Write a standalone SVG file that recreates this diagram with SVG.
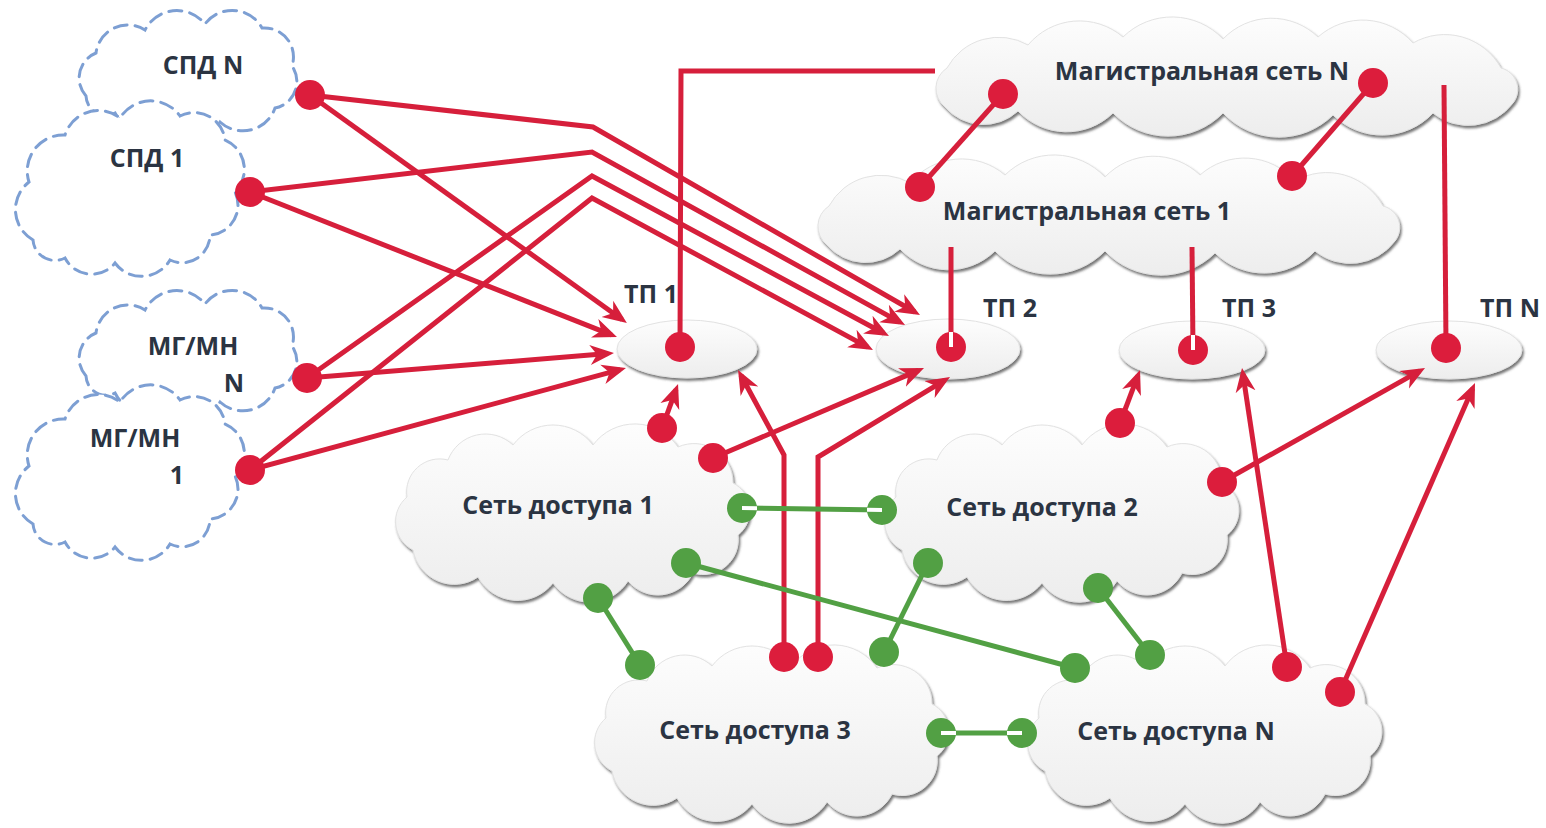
<svg xmlns="http://www.w3.org/2000/svg" width="1546" height="828" viewBox="0 0 1546 828">
<defs>
<style>
.dash{fill:#fff;stroke:#7d9fd3;stroke-width:3;stroke-dasharray:13 8;stroke-linecap:round}
.gray{fill:url(#gg);stroke:#e2e2e2;stroke-width:1;filter:url(#sh)}
.t{font-family:"Open Sans","Noto Sans","Liberation Sans",sans-serif;font-weight:700;fill:#2b3442;text-anchor:middle;font-size:25px}
.r{fill:none;stroke:#d61f3b;stroke-width:5}
.ra{fill:none;stroke:#d61f3b;stroke-width:5;marker-end:url(#ah)}
.g{fill:none;stroke:#52a044;stroke-width:5}
.rd{fill:#dc1d3c}
.gd{fill:#52a044}
.w{stroke:#fff;stroke-width:4}
</style>
<linearGradient id="gg" x1="0" y1="0" x2="0" y2="1">
<stop offset="0" stop-color="#fdfdfd"/>
<stop offset="1" stop-color="#ededed"/>
</linearGradient>
<filter id="sh" x="-5%" y="-10%" width="110%" height="130%">
<feDropShadow dx="1.5" dy="2.5" stdDeviation="1" flood-color="#4a4a4a" flood-opacity="0.75"/>
</filter>
<marker id="ah" viewBox="0 -11 26 22" markerWidth="26" markerHeight="22" refX="18" refY="0" orient="auto" markerUnits="userSpaceOnUse">
<path d="M24,0 L0,-10 L7,0 L0,10 Z" fill="#d61f3b"/>
</marker>
<path id="cA" d="M16,88 A27,27 0 0 1 26,45 A32,32 0 0 1 75,22 A36,36 0 0 1 135,16 A34,34 0 0 1 192,20 A29,29 0 0 1 222,58 A27,27 0 0 1 205,100 A34,34 0 0 1 150,114 A33,33 0 0 1 95,112 A30,30 0 0 1 45,105 A20,20 0 0 1 16,88 Z"/>
<path id="cB" d="M18,140 A35,35 0 0 1 14,82 A36,36 0 0 1 50,35 A35,35 0 0 1 105,18 A36,36 0 0 1 165,16 A31,31 0 0 1 210,40 A32,32 0 0 1 220,92 A30,30 0 0 1 195,135 A28,28 0 0 1 155,160 A33,33 0 0 1 100,163 A30,30 0 0 1 50,158 A22,22 0 0 1 18,140 Z"/>
<path id="cC" d="M12,84 A24,24 0 0 1 14,45 A59,59 0 0 1 95,22 A67,67 0 0 1 190,14 A70,70 0 0 1 290,16 A67,67 0 0 1 385,14 A67,67 0 0 1 480,20 A64,64 0 0 1 568,45 A22,22 0 0 1 580,80 A56,56 0 0 1 500,90 A70,70 0 0 1 400,92 A77,77 0 0 1 290,90 A77,77 0 0 1 180,90 A67,67 0 0 1 85,88 A51,51 0 0 1 12,84 Z"/>
<path id="cD" d="M20,125 A32,32 0 0 1 14,72 A33,33 0 0 1 55,35 A40,40 0 0 1 120,20 A50,50 0 0 1 200,20 A52,52 0 0 1 285,22 A39,39 0 0 1 340,58 A31,31 0 0 1 345,110 A35,35 0 0 1 300,148 A39,39 0 0 1 235,156 A45,45 0 0 1 160,158 A45,45 0 0 1 85,152 A42,42 0 0 1 20,125 Z"/>
</defs>
<rect width="1546" height="828" fill="#fff"/>

<g id="spd-n"><use href="#cA" class="dash" transform="translate(70,8)"/><text class="t" x="203" y="74">СПД N</text></g>
<g id="spd-1"><use href="#cB" class="dash" transform="translate(15,100)"/><text class="t" x="147" y="167">СПД 1</text></g>
<g id="mgmn-n"><use href="#cA" class="dash" transform="translate(70,288)"/><text class="t" x="193" y="355">МГ/МН</text><text class="t" x="234" y="392">N</text></g>
<g id="mgmn-1"><use href="#cB" class="dash" transform="translate(15,384)"/><text class="t" x="135" y="447">МГ/МН</text><text class="t" x="177" y="484">1</text></g>

<g id="mag-n"><use href="#cC" class="gray" transform="translate(933,23)"/><text class="t" x="1202" y="80">Магистральная сеть N</text></g>
<g id="mag-1"><use href="#cC" class="gray" transform="translate(815,161)"/><text class="t" x="1087" y="220">Магистральная сеть 1</text></g>

<g id="tp1"><ellipse class="gray" cx="687" cy="349" rx="70" ry="29"/><text class="t" x="651" y="303">ТП 1</text></g>
<g id="tp2"><ellipse class="gray" cx="948" cy="349" rx="72" ry="30"/><text class="t" x="1010" y="317">ТП 2</text></g>
<g id="tp3"><ellipse class="gray" cx="1192" cy="350" rx="73" ry="29"/><text class="t" x="1249" y="317">ТП 3</text></g>
<g id="tpn"><ellipse class="gray" cx="1449" cy="350" rx="73" ry="29"/><text class="t" x="1510" y="317">ТП N</text></g>

<g id="sd1"><use href="#cD" class="gray" transform="translate(393,425)"/><text class="t" x="558" y="514">Сеть доступа 1</text></g>
<g id="sd2"><use href="#cD" class="gray" transform="translate(882,425)"/><text class="t" x="1042" y="516">Сеть доступа 2</text></g>
<g id="sd3"><use href="#cD" class="gray" transform="translate(592,646)"/><text class="t" x="755" y="739">Сеть доступа 3</text></g>
<g id="sdn"><use href="#cD" class="gray" transform="translate(1025,646)"/><text class="t" x="1176" y="740">Сеть доступа N</text></g>

<g id="connectors">
<line class="ra" x1="310" y1="95" x2="622" y2="319.5"/>
<line class="ra" x1="250" y1="192" x2="611.4" y2="334.8"/>
<line class="ra" x1="307" y1="378" x2="608" y2="353.5"/>
<line class="ra" x1="250" y1="470" x2="620.2" y2="369.6"/>
<polyline class="ra" points="310,95 593,127 914.8,312"/>
<polyline class="ra" points="250,192 592,152 899.8,322.1"/>
<polyline class="ra" points="307,378 592,176 883.7,333.2"/>
<polyline class="ra" points="250,470 592,198 867.7,347.1"/>
<polyline class="r" points="680,347 681,71 935,71"/>
<line class="r" x1="1003" y1="94" x2="920" y2="187"/>
<line class="r" x1="1373" y1="83" x2="1292" y2="176"/>
<line class="r" x1="1444" y1="85" x2="1446" y2="348"/>
<line class="r" x1="951" y1="247" x2="951" y2="347"/>
<line class="r" x1="1192" y1="247" x2="1193" y2="350"/>
<line class="ra" x1="662" y1="428" x2="676" y2="389.6"/>
<line class="ra" x1="713" y1="458" x2="918.5" y2="370.4"/>
<polyline class="ra" points="784,657 784,455 740.9,375.3"/>
<polyline class="ra" points="818,657 818,457 944.9,380.1"/>
<line class="ra" x1="1120" y1="423" x2="1137.9" y2="375.6"/>
<line class="ra" x1="1222" y1="482" x2="1419.8" y2="370.9"/>
<line class="ra" x1="1287" y1="667" x2="1242.9" y2="373.9"/>
<line class="ra" x1="1340" y1="692" x2="1472.6" y2="388.5"/>
<line class="g" x1="742" y1="508" x2="882" y2="510"/>
<line class="g" x1="686" y1="563" x2="1075" y2="668"/>
<line class="g" x1="598" y1="598" x2="640" y2="665"/>
<line class="g" x1="928" y1="563" x2="884" y2="652"/>
<line class="g" x1="1098" y1="588" x2="1150" y2="655"/>
<line class="g" x1="941" y1="733" x2="1022" y2="733"/>
<g class="rd">
<circle cx="310" cy="95" r="15"/><circle cx="250" cy="192" r="15"/><circle cx="307" cy="378" r="15"/><circle cx="250" cy="470" r="15"/>
<circle cx="1003" cy="94" r="15"/><circle cx="920" cy="187" r="15"/><circle cx="1373" cy="83" r="15"/><circle cx="1292" cy="176" r="15"/>
<circle cx="680" cy="347" r="15"/><circle cx="951" cy="347" r="15"/><circle cx="1193" cy="350" r="15"/><circle cx="1446" cy="348" r="15"/>
<circle cx="662" cy="428" r="15"/><circle cx="713" cy="458" r="15"/><circle cx="1120" cy="423" r="15"/><circle cx="1222" cy="482" r="15"/>
<circle cx="784" cy="657" r="15"/><circle cx="818" cy="657" r="15"/><circle cx="1287" cy="667" r="15"/><circle cx="1340" cy="692" r="15"/>
</g>
<g class="gd">
<circle cx="742" cy="508" r="15"/><circle cx="686" cy="563" r="15"/><circle cx="598" cy="598" r="15"/>
<circle cx="882" cy="510" r="15"/><circle cx="928" cy="563" r="15"/><circle cx="1098" cy="588" r="15"/>
<circle cx="640" cy="665" r="15"/><circle cx="884" cy="652" r="15"/><circle cx="941" cy="733" r="15"/>
<circle cx="1075" cy="668" r="15"/><circle cx="1150" cy="655" r="15"/><circle cx="1022" cy="733" r="15"/>
</g>
<line class="w" x1="951" y1="332" x2="951" y2="347"/>
<line class="w" x1="1193" y1="335" x2="1193" y2="350"/>
<line class="w" x1="742" y1="508" x2="757" y2="508.2"/>
<line class="w" x1="867" y1="509.8" x2="882" y2="510"/>
<line class="w" x1="941" y1="733" x2="956" y2="733"/>
<line class="w" x1="1007" y1="733" x2="1022" y2="733"/>
</g>
</svg>
